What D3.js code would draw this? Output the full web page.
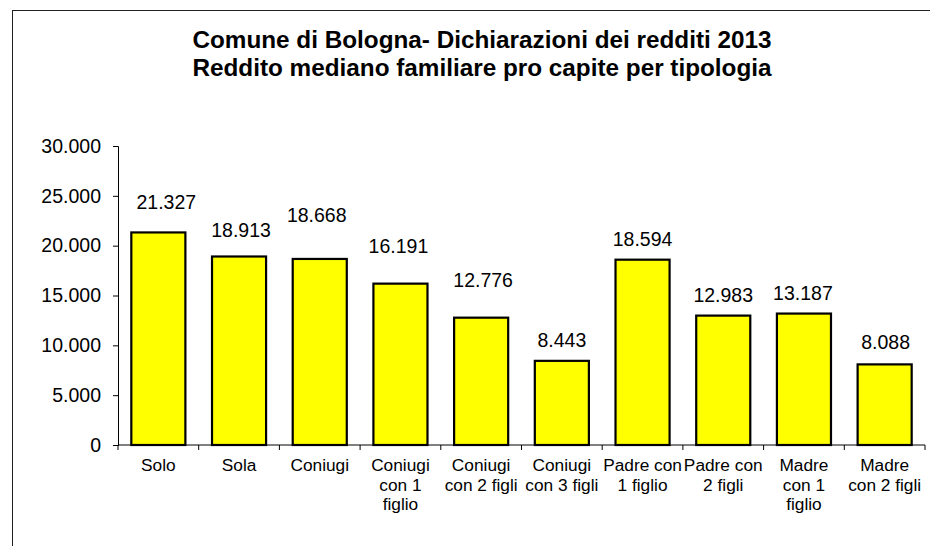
<!DOCTYPE html>
<html>
<head>
<meta charset="utf-8">
<script src="https://cdn.jsdelivr.net/npm/d3@7"></script>
<style>
  body { margin: 0; background: #fff; }
  text { font-family: "Liberation Sans", Arial, sans-serif; fill: #000; }
</style>
</head>
<body>
<div id="chart"></div>
<script>
// data
var categories = [
  "Solo", "Sola", "Coniugi", "Coniugi\ncon 1\nfiglio", "Coniugi\ncon 2 figli",
  "Coniugi\ncon 3 figli", "Padre con\n1 figlio", "Padre con\n2 figli",
  "Madre\ncon 1\nfiglio", "Madre\ncon 2 figli"
];
var values = [21327, 18913, 18668, 16191, 12776, 8443, 18594, 12983, 13187, 8088];
var yTicks = [0, 5000, 10000, 15000, 20000, 25000, 30000];
var titleLines = [
  "Comune di Bologna- Dichiarazioni dei redditi 2013",
  "Reddito mediano familiare pro capite per tipologia"
];

// the value labels were placed by hand in the original, so each has its own nudge (px)
var labelLift = [23, 20, 37, 31, 31, 14, 14, 14, 14, 15];
var labelShift = [8, 2, -3, -2, 2, 0, 0, 0, -1, 1];

var W = 930, H = 546;
var margin = { top: 146, right: 5, bottom: 101, left: 118 };
var width = W - margin.left - margin.right;
var height = H - margin.top - margin.bottom;

var it = d3.formatLocale({ decimal: ",", thousands: ".", grouping: [3], currency: ["€", ""] });
var fmt = it.format(",d");

var svg = d3.select("#chart").append("svg")
  .attr("width", W)
  .attr("height", H);

// outer frame (right and bottom edges fall outside the picture)
svg.append("rect")
  .attr("x", 12.5).attr("y", 10.5)
  .attr("width", W + 20).attr("height", H + 20)
  .attr("fill", "none")
  .attr("stroke", "#222")
  .attr("stroke-width", 1);

// title
svg.append("text")
  .attr("x", 482)
  .attr("y", 48)
  .attr("text-anchor", "middle")
  .style("font-size", "24.3px")
  .style("font-weight", "bold")
  .selectAll("tspan")
  .data(titleLines)
  .enter().append("tspan")
  .attr("x", 482)
  .attr("dy", (d, i) => i === 0 ? 0 : 28)
  .text(d => d);

var main = svg.append("g")
  .attr("transform", "translate(" + margin.left + "," + margin.top + ")");

var x = d3.scaleBand().domain(categories).range([0, width]).paddingInner(0.33).paddingOuter(0.165);
var xEdge = d3.scaleLinear().domain([0, categories.length]).range([0, width]);
var y = d3.scaleLinear().domain([0, 30000]).range([height, 0]);

// y axis
var yAxis = main.append("g")
  .call(d3.axisLeft(y).tickValues(yTicks).tickFormat(fmt).tickSize(5).tickPadding(12));
yAxis.select(".domain").attr("stroke", "#000");
yAxis.selectAll(".tick line").attr("stroke", "#000");
yAxis.selectAll(".tick text")
  .style("font-size", "19.5px")
  .attr("font-family", null);

// bars
main.append("g").selectAll("rect")
  .data(values)
  .enter().append("rect")
  .attr("x", (d, i) => x(categories[i]))
  .attr("y", d => y(d))
  .attr("width", x.bandwidth())
  .attr("height", d => height - y(d))
  .attr("fill", "#ffff00")
  .attr("stroke", "#000")
  .attr("stroke-width", 2.2);

// value labels
main.append("g").selectAll("text")
  .data(values)
  .enter().append("text")
  .attr("x", (d, i) => x(categories[i]) + x.bandwidth() / 2 + labelShift[i])
  .attr("y", (d, i) => y(d) - labelLift[i])
  .attr("text-anchor", "middle")
  .style("font-size", "19.5px")
  .text(d => fmt(d));

// x axis: baseline and ticks on category boundaries
var xAxis = main.append("g")
  .attr("transform", "translate(0," + height + ")");
xAxis.append("line")
  .attr("x1", 0).attr("x2", width)
  .attr("y1", 0).attr("y2", 0)
  .attr("stroke", "#000");
xAxis.selectAll(".edge")
  .data(d3.range(categories.length + 1))
  .enter().append("line")
  .attr("class", "edge")
  .attr("x1", d => xEdge(d)).attr("x2", d => xEdge(d))
  .attr("y1", 0).attr("y2", 5)
  .attr("stroke", "#000");

// category labels
xAxis.selectAll(".cat")
  .data(categories)
  .enter().append("text")
  .attr("class", "cat")
  .attr("text-anchor", "middle")
  .attr("y", 26)
  .style("font-size", "17.3px")
  .each(function(d) {
    var cx = x(d) + x.bandwidth() / 2;
    d3.select(this).selectAll("tspan")
      .data(d.split("\n"))
      .enter().append("tspan")
      .attr("x", cx)
      .attr("dy", (s, i) => i === 0 ? 0 : 19.5)
      .text(s => s);
  });
</script>
</body>
</html>
